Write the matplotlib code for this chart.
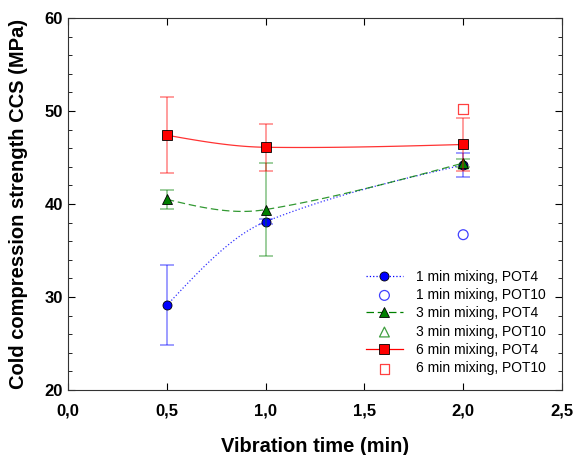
import numpy as np
import matplotlib.pyplot as plt
from matplotlib.ticker import FuncFormatter, MultipleLocator

plt.rcParams['font.family'] = ['Liberation Sans', 'DejaVu Sans']

# vibration time (min)
vib = [0.5, 1.0, 2.0]

# POT4 series (MPa) with error bars
ccs_1min = [29.1, 38.1, 44.2]
err_1min = [4.3, 0.3, 1.3]
ccs_3min = [40.5, 39.4, 44.4]
err_3min = [1.0, 5.0, 0.4]
ccs_6min = [47.4, 46.1, 46.4]
err_6min = [4.1, 2.5, 2.9]

# POT10 single points
vib_pot10 = [2.0]
ccs_1min_pot10 = [36.7]
ccs_3min_pot10 = [44.3]
ccs_6min_pot10 = [50.2]


def smooth_curve(x, y, n=60):
    """Cubic Hermite guide line through the points (weighted tangents, free ends)"""
    x = np.asarray(x, float)
    y = np.asarray(y, float)
    h = np.diff(x)
    s = np.diff(y) / h
    m = np.zeros(len(x))
    for i in range(1, len(x) - 1):
        w0, w1 = h[i - 1] ** 2, h[i] ** 2
        m[i] = (w0 * s[i - 1] + w1 * s[i]) / (w0 + w1)
    m[0] = (3 * s[0] - m[1]) / 2
    m[-1] = (3 * s[-1] - m[-2]) / 2
    xs_all, ys_all = [], []
    for i in range(len(x) - 1):
        t = np.linspace(0, 1, n)
        h00 = 1 - 3 * t ** 2 + 2 * t ** 3
        h10 = t - 2 * t ** 2 + t ** 3
        h01 = 3 * t ** 2 - 2 * t ** 3
        h11 = t ** 3 - t ** 2
        xs_all.append(x[i] + t * h[i])
        ys_all.append(h00 * y[i] + h10 * h[i] * m[i] + h01 * y[i + 1] + h11 * h[i] * m[i + 1])
    return np.concatenate(xs_all), np.concatenate(ys_all)


fig = plt.figure(figsize=(5.75, 4.55), dpi=100)
ax = fig.add_axes([68 / 575, 1 - 390 / 455, (562 - 68) / 575, (390 - 18) / 455])

series = [
    (ccs_1min, err_1min, ccs_1min_pot10, 'blue', 'o', ':', '1 min mixing'),
    (ccs_3min, err_3min, ccs_3min_pot10, 'green', '^', (0, (6, 3)), '3 min mixing'),
    (ccs_6min, err_6min, ccs_6min_pot10, 'red', 's', '-', '6 min mixing'),
]

handles = []
for vals, errs, p10, col, mk, ls, name in series:
    xs, ys = smooth_curve(vib, vals)
    ax.plot(xs, ys, color=col, ls=ls, lw=0.9, alpha=0.8)
    ax.errorbar(vib, vals, yerr=errs, fmt='none', ecolor=col, elinewidth=1.2,
                capsize=5, capthick=1.2, alpha=0.45)
    ax.plot(vib, vals, ls='none', marker=mk, ms=6.5, mfc=col, mec='black', mew=0.6)
    h1, = ax.plot([], [], color=col, ls=ls, lw=0.9, marker=mk, ms=6.5, mfc=col,
                  mec='black', mew=0.6)
    h2 = ax.scatter(vib_pot10, p10, marker=mk, s=50, facecolors='none',
                    edgecolors=col, linewidths=0.9, alpha=0.75)
    handles += [(h1, name + ', POT4'), (h2, name + ', POT10')]

ax.set_xlim(0, 2.5)
ax.set_ylim(20, 60)
ax.xaxis.set_major_locator(MultipleLocator(0.5))
ax.yaxis.set_major_locator(MultipleLocator(10))
ax.yaxis.set_minor_locator(MultipleLocator(2))
ax.xaxis.set_major_formatter(FuncFormatter(lambda v, p: f'{v:.1f}'.replace('.', ',')))
ax.tick_params(which='both', direction='in', top=True, right=True, labelsize=12)
ax.tick_params(which='major', length=5)
ax.tick_params(which='minor', length=3)
ax.tick_params(axis='x', pad=10)
for lab in ax.get_xticklabels() + ax.get_yticklabels():
    lab.set_fontweight('bold')
for s in ax.spines.values():
    s.set_linewidth(0.8)
    s.set_color('#333333')

ax.set_xlabel('Vibration time (min)', fontsize=14.5, fontweight='bold')
ax.set_ylabel('Cold compression strength CCS (MPa)', fontsize=14.5, fontweight='bold')
ax.xaxis.set_label_coords(0.5, -0.125)
ax.yaxis.set_label_coords(-0.08, 0.5)

ax.legend([h for h, _ in handles], [l for _, l in handles], loc='lower right',
          frameon=False, fontsize=10, handlelength=2.7, labelspacing=0.31,
          handletextpad=0.9, bbox_to_anchor=(0.992, 0.006))

fig.savefig('out.png', dpi=100)
